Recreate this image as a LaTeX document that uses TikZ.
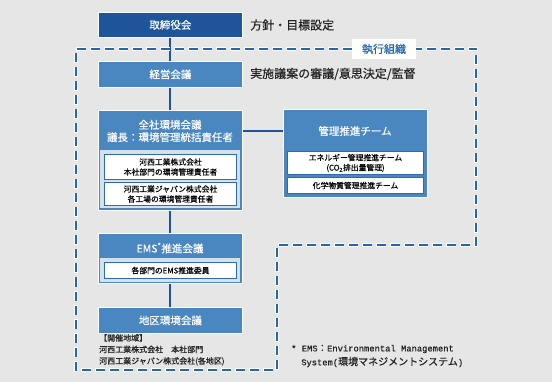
\documentclass[tikz,border=0pt]{standalone}
\usepackage{fontspec}
\setmainfont[FakeBold=0.5]{Noto Sans CJK JP}
\newfontfamily\monofont[FakeBold=0.6]{Liberation Mono}
\newfontfamily\cjkfoot[FakeBold=0.5]{Noto Sans CJK JP}
\usetikzlibrary{backgrounds}
\definecolor{bgc}{HTML}{E6E6E6}
\definecolor{darkb}{HTML}{1E5499}
\definecolor{midb}{HTML}{4A86C0}
\definecolor{bandc}{HTML}{D3E0EE}
\definecolor{innerb}{HTML}{2F6AAE}
\definecolor{dashb}{HTML}{2366AE}
\definecolor{txt}{HTML}{222222}
\tikzset{
  boxbase/.style={draw=white, line width=0.8pt, minimum width=144pt, inner sep=0pt, anchor=north west},
  darkbox/.style={boxbase, fill=darkb},
  midbox/.style={boxbase, fill=midb},
  bandbox/.style={fill=bandc, inner sep=0pt, anchor=north west, minimum width=140pt},
  innerbox/.style={fill=white, draw=innerb, line width=1pt, inner sep=0pt, anchor=north west, minimum width=132pt, align=center, font=\fontsize{7.8}{10}\selectfont, text=black},
  title/.style={text=white, font=\fontsize{10.5}{12.5}\selectfont, align=center, inner sep=0pt},
  side/.style={text=txt, font=\fontsize{12}{14}\selectfont, anchor=west, inner sep=0pt},
  conn/.style={draw=darkb, line width=2pt},
  note/.style={text=txt, anchor=west, inner sep=0pt}
}
\begin{document}
\begin{tikzpicture}[x=1pt,y=-1pt]
\useasboundingbox (0,0) rectangle (552,382);
% boxes
\node[darkbox, minimum height=25pt] (tori) at (98,12) {};
\node[title] (toriT) at (tori.center) {取締役会};
\node[side] (toriL) at (250,25) {方針・目標設定};

\node[midbox, minimum height=26pt] (keiei) at (98,61) {};
\node[title] (keieiT) at (keiei.center) {経営会議};
\node[side] (keieiL) at (250,74) {実施議案の審議/意思決定/監督};

\node[midbox, minimum height=100pt] (zensha) at (98,110) {};
\node[title] (zenshaT) at (170,131) {全社環境会議\\議長：環境管理統括責任者};
\node[bandbox, minimum height=58pt] (zband) at (100,150) {};
\node[innerbox, minimum height=25pt] (z1) at (104,154) {河西工業株式会社\\本社部門の環境管理責任者};
\node[innerbox, minimum height=23pt] (z2) at (104,182) {河西工業ジャパン株式会社\\各工場の環境管理責任者};

\node[midbox, minimum height=88pt] (kanri) at (283,109) {};
\node[title] (kanriT) at (355,131) {管理推進チーム};
\node[innerbox, minimum width=136pt, minimum height=23pt] (k1) at (287,151) {エネルギー管理推進チーム\\(CO\textsubscript{2}排出量管理)};
\node[innerbox, minimum width=136pt, minimum height=16pt] (k2) at (287,177) {化学物質管理推進チーム};

\node[midbox, minimum height=50pt] (ems) at (98,233) {};
\node[title] (emsT) at (170,248) {EMS\textsuperscript{*}推進会議};
\node[bandbox, minimum height=24pt] (eband) at (100,258) {};
\node[innerbox, minimum height=16pt] (e1) at (104,262) {各部門のEMS推進委員};

\node[midbox, minimum height=26pt] (chiku) at (98,307) {};
\node[title] (chikuT) at (chiku.center) {地区環境会議};
\node[note, font=\fontsize{8}{11.5}\selectfont, align=left, anchor=north west] (chikuN) at (99,334) {【開催地域】\\河西工業株式会社\quad 本社部門\\河西工業ジャパン株式会社(各地区)};

% connectors
\begin{scope}[on background layer]
\fill[bgc] (0,0) rectangle (552,382);
\draw[conn] (tori.south) -- (chiku.north);
\draw[conn] (zensha.east |- kanriT) -- (kanri.west |- kanriT);
\end{scope}

% dashed region
\coordinate (d1) at (76,49);
\coordinate (d2) at (476,49);
\coordinate (d3) at (476,245);
\coordinate (d4) at (277,245);
\coordinate (d5) at (277,370);
\coordinate (d6) at (76,370);
\draw[white, line width=3.4pt, dash pattern=on 10pt off 4pt, dash phase=0pt] (d1) -- (d2) -- (d3) -- (d4) -- (d5) -- (d6) -- cycle;
\draw[dashb, line width=1.8pt, dash pattern=on 9pt off 5pt, dash phase=13.5pt] (d1) -- (d2) -- (d3) -- (d4) -- (d5) -- (d6) -- cycle;
\node[fill=white, text=dashb, font=\fontsize{11}{13}\selectfont, minimum width=64pt, minimum height=20pt, inner sep=0pt] (shikko) at (384,49) {執行組織};

% footnote
\node[note, font=\monofont\fontsize{8.8}{10}\selectfont] (fn1) at (291,349) {* EMS{\cjkfoot\fontsize{9.5}{10}\selectfont ：}Environmental Management};
\node[note, font=\monofont\fontsize{8.8}{10}\selectfont] (fn2) at (301,362) {System({\cjkfoot\fontsize{10}{10}\selectfont 環境マネジメントシステム})};
\end{tikzpicture}
\end{document}
